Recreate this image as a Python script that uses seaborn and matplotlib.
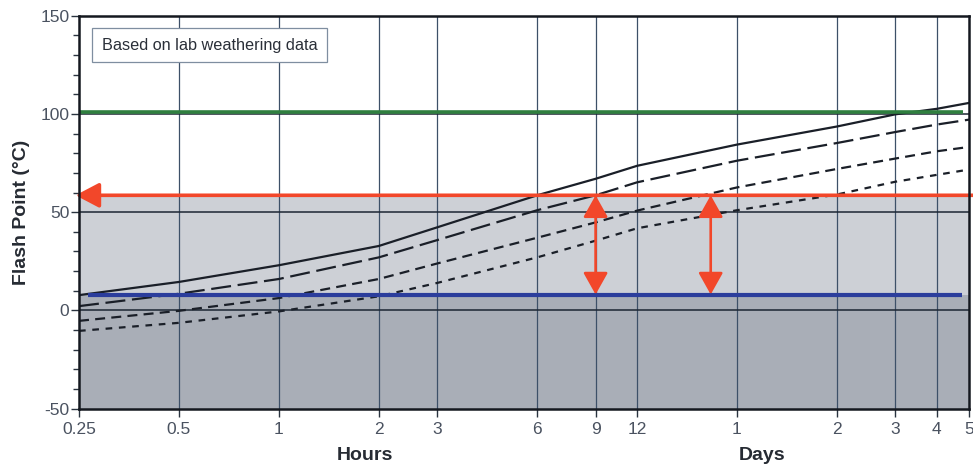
import matplotlib
matplotlib.use("Agg")
import matplotlib.pyplot as plt
from matplotlib.ticker import MultipleLocator, NullLocator, FixedLocator
from matplotlib.patches import ArrowStyle
import seaborn as sns
import pandas as pd

# ---- data ----
hours = [0.25, 0.5, 1, 2, 3, 6, 9, 12, 24, 48, 72, 96, 120]
solid_fp = [7.8, 14.5, 23.0, 32.8, 42.3, 58.6, 67.0, 73.6, 84.4, 93.6, 99.8, 102.6, 105.6]
long_dash_fp = [2.2, 8.5, 16.0, 27.0, 35.8, 51.0, 58.6, 65.2, 76.2, 85.2, 90.8, 94.6, 97.1]
medium_dash_fp = [-5.3, -0.2, 6.3, 16.0, 23.9, 37.0, 44.8, 50.8, 62.6, 72.0, 77.3, 81.0, 83.2]
short_dash_fp = [-10.4, -6.3, -0.5, 7.2, 14.0, 27.0, 35.5, 41.8, 51.0, 59.0, 65.5, 69.0, 71.7]
series_names = ["solid", "long", "medium", "short"]

xtick_hours = [0.25, 0.5, 1, 2, 3, 6, 9, 12, 24, 48, 72, 96, 120]
xtick_labels = ["0.25", "0.5", "1", "2", "3", "6", "9", "12", "1", "2", "3", "4", "5"]
yticks = [-50, 0, 50, 100, 150]

green_level = 101.0
red_level = 58.6
blue_level = 8.1
arrow_hours = [9, 20]
note_text = "Based on lab weathering data"

# ---- build frame ----
rows = []
for name, vals in zip(series_names, [solid_fp, long_dash_fp, medium_dash_fp, short_dash_fp]):
    for h, v in zip(hours, vals):
        rows.append({"hours": h, "fp": v, "series": name})
df = pd.DataFrame(rows)

sns.set_theme(style="white")
plt.rcParams["font.family"] = ["Liberation Sans", "DejaVu Sans"]
plt.rcParams["axes.unicode_minus"] = False

fig = plt.figure(figsize=(9.73, 4.68), dpi=100)
ax = fig.add_axes([0.0812, 0.1267, 0.9147, 0.8398])

ax.set_xscale("log")
ax.set_xlim(0.25, 120)
ax.set_ylim(-50, 150)

# shaded zones
ax.axhspan(blue_level, red_level, color="#cdd0d6", zorder=0, lw=0)
ax.axhspan(-50, blue_level, color="#a9aeb7", zorder=0, lw=0)

# grid
for h in xtick_hours[1:-1]:
    ax.axvline(h, color="#3d5068", lw=0.9, zorder=1)
for yv in [0, 50, 100]:
    ax.axhline(yv, color="#1c2633", lw=1.1, zorder=1)

# curves
dash_map = {"solid": "", "long": (9, 3), "medium": (4.5, 2.8), "short": (3, 3)}
sns.lineplot(data=df, x="hours", y="fp", style="series", dashes=dash_map,
             color="#1a1f28", linewidth=1.6, legend=False, ax=ax, zorder=4,
             estimator=None, sort=True)

# reference lines
ax.plot([0.25, 115], [green_level, green_level], color="#2f7f3f", lw=2.6, zorder=5,
        solid_capstyle="butt")
ax.plot([0.266, 114.6], [blue_level, blue_level], color="#2b3d9c", lw=3.0, zorder=5,
        solid_capstyle="butt")
red = "#f2472a"
ax.annotate("", xy=(0.244, red_level), xytext=(124, red_level),
            arrowprops=dict(arrowstyle=ArrowStyle("-|>", head_length=0.8, head_width=0.42),
                            color=red, lw=2.6, mutation_scale=18, shrinkA=0, shrinkB=0),
            annotation_clip=False, zorder=6)
for ah in arrow_hours:
    ax.annotate("", xy=(ah, blue_level), xytext=(ah, red_level),
                arrowprops=dict(arrowstyle=ArrowStyle("<|-|>", head_length=0.75, head_width=0.42),
                                color=red, lw=1.9, mutation_scale=18, shrinkA=0, shrinkB=0),
                zorder=6)

# ticks
ax.xaxis.set_major_locator(FixedLocator(xtick_hours))
ax.xaxis.set_minor_locator(NullLocator())
ax.set_xticklabels(xtick_labels)
ax.set_yticks(yticks)
ax.yaxis.set_minor_locator(MultipleLocator(10))
ax.tick_params(axis="both", which="major", direction="out", length=6, width=1.0,
               color="#2a3440", labelsize=12.5, labelcolor="#4a5260", left=True, bottom=True)
ax.tick_params(axis="y", which="minor", direction="out", length=4, width=1.0,
               color="#2a3440", left=True)
ax.tick_params(axis="y", pad=1)
ax.set_xlabel("")
ax.set_ylabel("")

for s in ax.spines.values():
    s.set_color("#14181f")
    s.set_linewidth(1.8)
    s.set_zorder(7)

# note box
ax.text(0.0258, 0.925, note_text, transform=ax.transAxes, fontsize=11.7, color="#2a2f38",
        ha="left", va="center", zorder=8,
        bbox=dict(boxstyle="square,pad=0.6", fc="white", ec="#7f8ea0", lw=0.9))

fig.text(365 / 973, 1 - 456 / 468, "Hours", ha="center", va="center", fontsize=14,
         fontweight="bold", color="#262b33")
fig.text(762 / 973, 1 - 456 / 468, "Days", ha="center", va="center", fontsize=14,
         fontweight="bold", color="#262b33")
fig.text(22 / 973, 1 - 212 / 468, "Flash Point (°C)", ha="center", va="center",
         rotation=90, fontsize=14, fontweight="bold", color="#262b33")

fig.savefig("out.png", dpi=100)
